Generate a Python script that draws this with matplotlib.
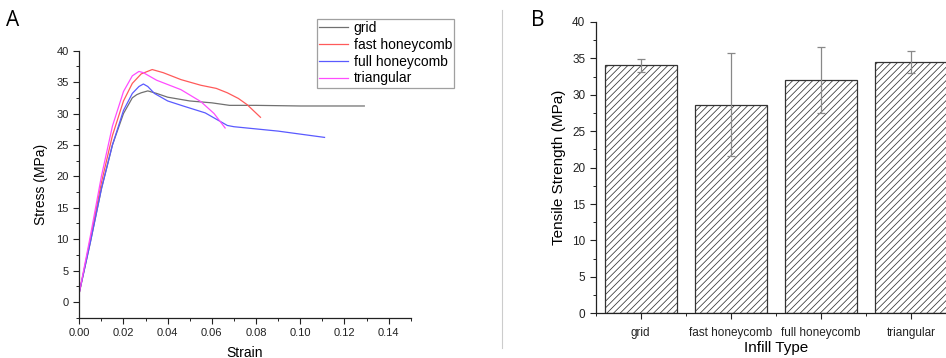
import matplotlib
matplotlib.use("Agg")
import matplotlib.pyplot as plt
from matplotlib.ticker import MultipleLocator
import numpy as np

plt.rcParams['font.family'] = ['Liberation Sans', 'DejaVu Sans']
plt.rcParams['hatch.color'] = '#606060'
plt.rcParams['hatch.linewidth'] = 0.55

# ---- Panel A data: stress-strain curves ----
grid_strain = [0, 0.005, 0.010, 0.015, 0.020, 0.024, 0.026, 0.028, 0.031, 0.035, 0.040, 0.050, 0.060, 0.068, 0.080, 0.100, 0.129]
grid_stress = [1.5, 9.5, 18, 25, 30, 32.5, 33.0, 33.3, 33.6, 33.2, 32.6, 32.0, 31.7, 31.3, 31.3, 31.2, 31.2]

fast_strain = [0, 0.005, 0.010, 0.015, 0.020, 0.024, 0.028, 0.033, 0.038, 0.046, 0.055, 0.062, 0.067, 0.072, 0.076, 0.082]
fast_stress = [1.5, 10, 19, 26.5, 32, 34.8, 36.3, 37.0, 36.5, 35.4, 34.5, 34.0, 33.3, 32.4, 31.4, 29.4]

full_strain = [0, 0.005, 0.010, 0.015, 0.020, 0.024, 0.027, 0.029, 0.031, 0.034, 0.040, 0.047, 0.057, 0.064, 0.067, 0.070, 0.090, 0.111]
full_stress = [1.5, 9.5, 18, 25, 30.5, 33.2, 34.3, 34.7, 34.3, 33.2, 32.0, 31.2, 30.1, 28.7, 28.1, 27.9, 27.2, 26.2]

tri_strain = [0, 0.005, 0.010, 0.015, 0.020, 0.024, 0.027, 0.029, 0.035, 0.046, 0.055, 0.061, 0.066]
tri_stress = [1.5, 10.5, 20, 28, 33.5, 36.0, 36.7, 36.5, 35.3, 33.8, 31.9, 30.0, 27.7]

series_names = ['grid', 'fast honeycomb', 'full honeycomb', 'triangular']
series_colors = ['#707070', '#ff5a5a', '#5a5aff', '#ff4cff']

# ---- Panel B data: tensile strength ----
infill_types = ['grid', 'fast honeycomb', 'full honeycomb', 'triangular']
strength = [34.05, 28.65, 32.05, 34.5]
strength_err = [0.85, 7.1, 4.5, 1.5]

W, H = 946, 358
fig = plt.figure(figsize=(W / 100, H / 100), dpi=100)

# Panel A
axA = fig.add_axes([79.3 / W, 1 - 317.7 / H, (410.7 - 79.3) / W, (317.7 - 50.7) / H])
curves = [(grid_strain, grid_stress), (fast_strain, fast_stress),
          (full_strain, full_stress), (tri_strain, tri_stress)]
handles = []
for (xs, ys), name, c in zip(curves, series_names, series_colors):
    h, = axA.plot(xs, ys, color=c, lw=0.9, label=name)
    handles.append(h)
axA.set_xlim(0, 0.15)
axA.set_ylim(-2.5, 40)
axA.set_xticks(np.arange(0, 0.141, 0.02))
axA.set_xticklabels([f'{v:.2f}' for v in np.arange(0, 0.141, 0.02)])
axA.set_yticks(np.arange(0, 41, 5))
axA.xaxis.set_minor_locator(MultipleLocator(0.01))
axA.yaxis.set_minor_locator(MultipleLocator(2.5))
for s in ['top', 'right']:
    axA.spines[s].set_visible(False)
for s in ['left', 'bottom']:
    axA.spines[s].set_color('#222222')
    axA.spines[s].set_linewidth(0.9)
axA.tick_params(which='major', direction='out', length=4, width=0.8, labelsize=8, colors='#222222')
axA.tick_params(which='minor', direction='out', length=2.5, width=0.7, colors='#222222')
axA.set_xlabel('Strain', fontsize=10)
axA.set_ylabel('Stress (MPa)', fontsize=10, labelpad=6)
axA.xaxis.set_label_coords(0.5, -0.105)

leg = fig.legend(handles=handles, loc='upper left',
                 bbox_to_anchor=(316.7 / W, 1 - 19 / H), fontsize=10,
                 frameon=True, fancybox=False, edgecolor='#888888',
                 handlelength=2.1, handletextpad=0.4, borderpad=0.15,
                 labelspacing=0.2, borderaxespad=0)
leg.get_frame().set_linewidth(0.9)

# Panel B
axB = fig.add_axes([595.7 / W, 1 - 313.3 / H, (956 - 595.7) / W, (313.3 - 22) / H])
xpos = np.arange(len(infill_types))
axB.bar(xpos, strength, width=0.8, color='white', edgecolor='#333333',
        linewidth=0.9, hatch='/////')
axB.errorbar(xpos, strength, yerr=strength_err, fmt='none', ecolor='#888888',
             elinewidth=0.9, capsize=3, capthick=0.9)
axB.set_xlim(-0.5, 3.5)
axB.set_ylim(0, 40)
axB.set_xticks(xpos)
axB.set_xticklabels(infill_types)
axB.set_xticks(np.arange(-0.5, 3.6, 1), minor=True)
axB.set_yticks(np.arange(0, 41, 5))
axB.yaxis.set_minor_locator(MultipleLocator(2.5))
for s in ['top', 'right']:
    axB.spines[s].set_visible(False)
for s in ['left', 'bottom']:
    axB.spines[s].set_color('#222222')
    axB.spines[s].set_linewidth(0.9)
axB.tick_params(which='major', direction='out', length=4, width=0.8, labelsize=8.5, colors='#222222')
axB.tick_params(which='minor', direction='out', length=2.5, width=0.7, colors='#222222')
axB.tick_params(axis='x', which='major', pad=6)
axB.set_xlabel('Infill Type', fontsize=11)
axB.set_ylabel('Tensile Strength (MPa)', fontsize=11, labelpad=4)
axB.xaxis.set_label_coords(0.5, -0.095)

# Panel letters and divider
fig.text(6 / W, 1 - 20 / H, 'A', fontsize=15, va='center', ha='left', family=['Open Sans', 'DejaVu Sans'])
fig.text(531 / W, 1 - 21 / H, 'B', fontsize=15, va='center', ha='left', family=['Open Sans', 'DejaVu Sans'])
fig.add_artist(plt.Line2D([501.7 / W, 501.7 / W], [1 - 348 / H, 1 - 10 / H],
                          color='#cccccc', lw=0.8, transform=fig.transFigure))

fig.savefig('out.png', dpi=100)
